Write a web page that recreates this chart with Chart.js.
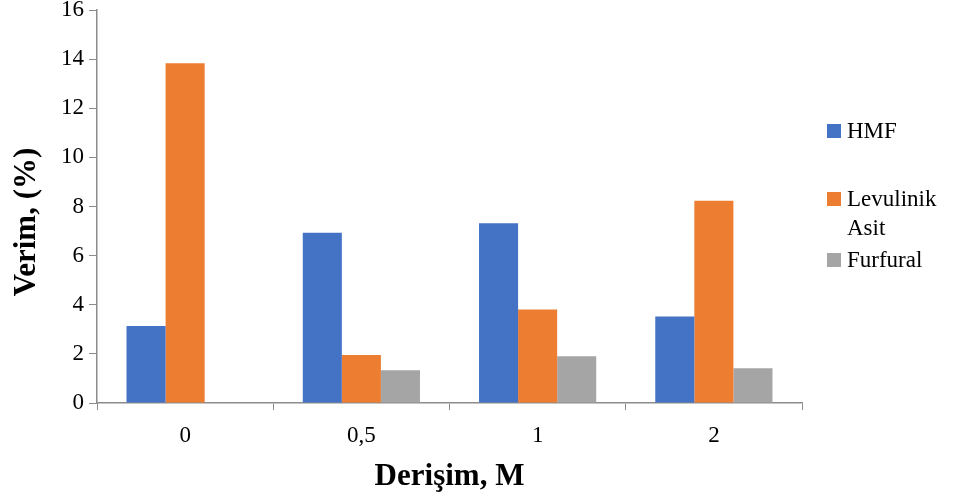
<!DOCTYPE html>
<html>
<head>
<meta charset="utf-8">
<script src="https://cdn.jsdelivr.net/npm/chart.js@4"></script>
<style>
  html, body { margin: 0; padding: 0; background: #fff; }
  #wrap { width: 958px; height: 499px; }
</style>
</head>
<body>
<div id="wrap"><canvas id="chart"></canvas></div>
<script>
const categories = ['0', '0,5', '1', '2'];
const hmf = [3.13, 6.93, 7.32, 3.52];
const levulinik = [13.83, 1.95, 3.81, 8.23];
const furfural = [0, 1.33, 1.9, 1.41];
const seriesNames = ['HMF', ['Levulinik', 'Asit'], 'Furfural'];
const seriesColors = ['#4472C4', '#ED7D31', '#A5A5A5'];
const yTitle = 'Verim, (%)';
const xTitle = 'Derişim, M';

const fontFamily = "'Times New Roman', 'Liberation Serif', serif";
const axisGrey = '#8c8c8c';

// legend (with the wrapped "Levulinik / Asit" label) and the rotated y title
const sideLegend = {
    id: 'sideLegend',
    afterDraw(chart) {
        const ctx = chart.ctx;
        const rows = [131, 199, 260];
        ctx.save();
        ctx.font = '23px ' + fontFamily;
        ctx.textBaseline = 'middle';
        ctx.textAlign = 'left';
        chart.data.datasets.forEach((ds, i) => {
            const y = rows[i];
            ctx.fillStyle = ds.backgroundColor;
            ctx.fillRect(827, y - 7, 14, 14);
            ctx.fillStyle = '#000';
            const lines = Array.isArray(ds.label) ? ds.label : [ds.label];
            lines.forEach((t, j) => ctx.fillText(t, 847, y + 1 + j * 29));
        });

        ctx.translate(27, 222);
        ctx.rotate(-Math.PI / 2);
        ctx.font = 'bold 31px ' + fontFamily;
        ctx.textAlign = 'center';
        ctx.fillText(yTitle, 0, 0);
        ctx.restore();
    }
};

const chart = new Chart(document.getElementById('chart'), {
    type: 'bar',
    data: {
        labels: categories,
        datasets: [hmf, levulinik, furfural].map((d, i) => ({
            label: seriesNames[i],
            data: d,
            backgroundColor: seriesColors[i],
            borderWidth: 0,
            categoryPercentage: 0.665,
            barPercentage: 1.0
        }))
    },
    options: {
        responsive: true,
        maintainAspectRatio: false,
        animation: false,
        layout: { padding: { top: 10, right: 156, left: 0, bottom: 0 } },
        plugins: {
            legend: { display: false },
            tooltip: { enabled: false }
        },
        scales: {
            x: {
                grid: {
                    display: true,
                    offset: true,
                    drawOnChartArea: false,
                    drawTicks: true,
                    tickLength: 7,
                    color: axisGrey
                },
                border: { color: axisGrey, width: 1.5 },
                ticks: {
                    color: '#000',
                    font: { family: fontFamily, size: 23 },
                    padding: 12
                },
                title: {
                    display: true,
                    text: xTitle,
                    color: '#000',
                    font: { family: fontFamily, size: 31, weight: 'bold' },
                    padding: { top: 2, bottom: 3 }
                },
                afterFit(scale) {
                    scale.height = 96;
                    scale.paddingLeft = 0;
                    scale.paddingRight = 0;
                }
            },
            y: {
                min: 0,
                max: 16,
                ticks: {
                    stepSize: 2,
                    color: '#000',
                    font: { family: fontFamily, size: 23 },
                    padding: 5
                },
                grid: {
                    display: true,
                    drawOnChartArea: false,
                    drawTicks: true,
                    tickLength: 8,
                    color: axisGrey
                },
                border: { color: axisGrey, width: 1.5 },
                afterFit(scale) {
                    scale.width = 97;
                    scale.paddingTop = 0;
                    scale.paddingBottom = 0;
                }
            }
        }
    },
    plugins: [sideLegend]
});

// redraw once fonts have settled
document.fonts.ready.then(() => setTimeout(() => chart.update('none'), 200));
</script>
</body>
</html>
